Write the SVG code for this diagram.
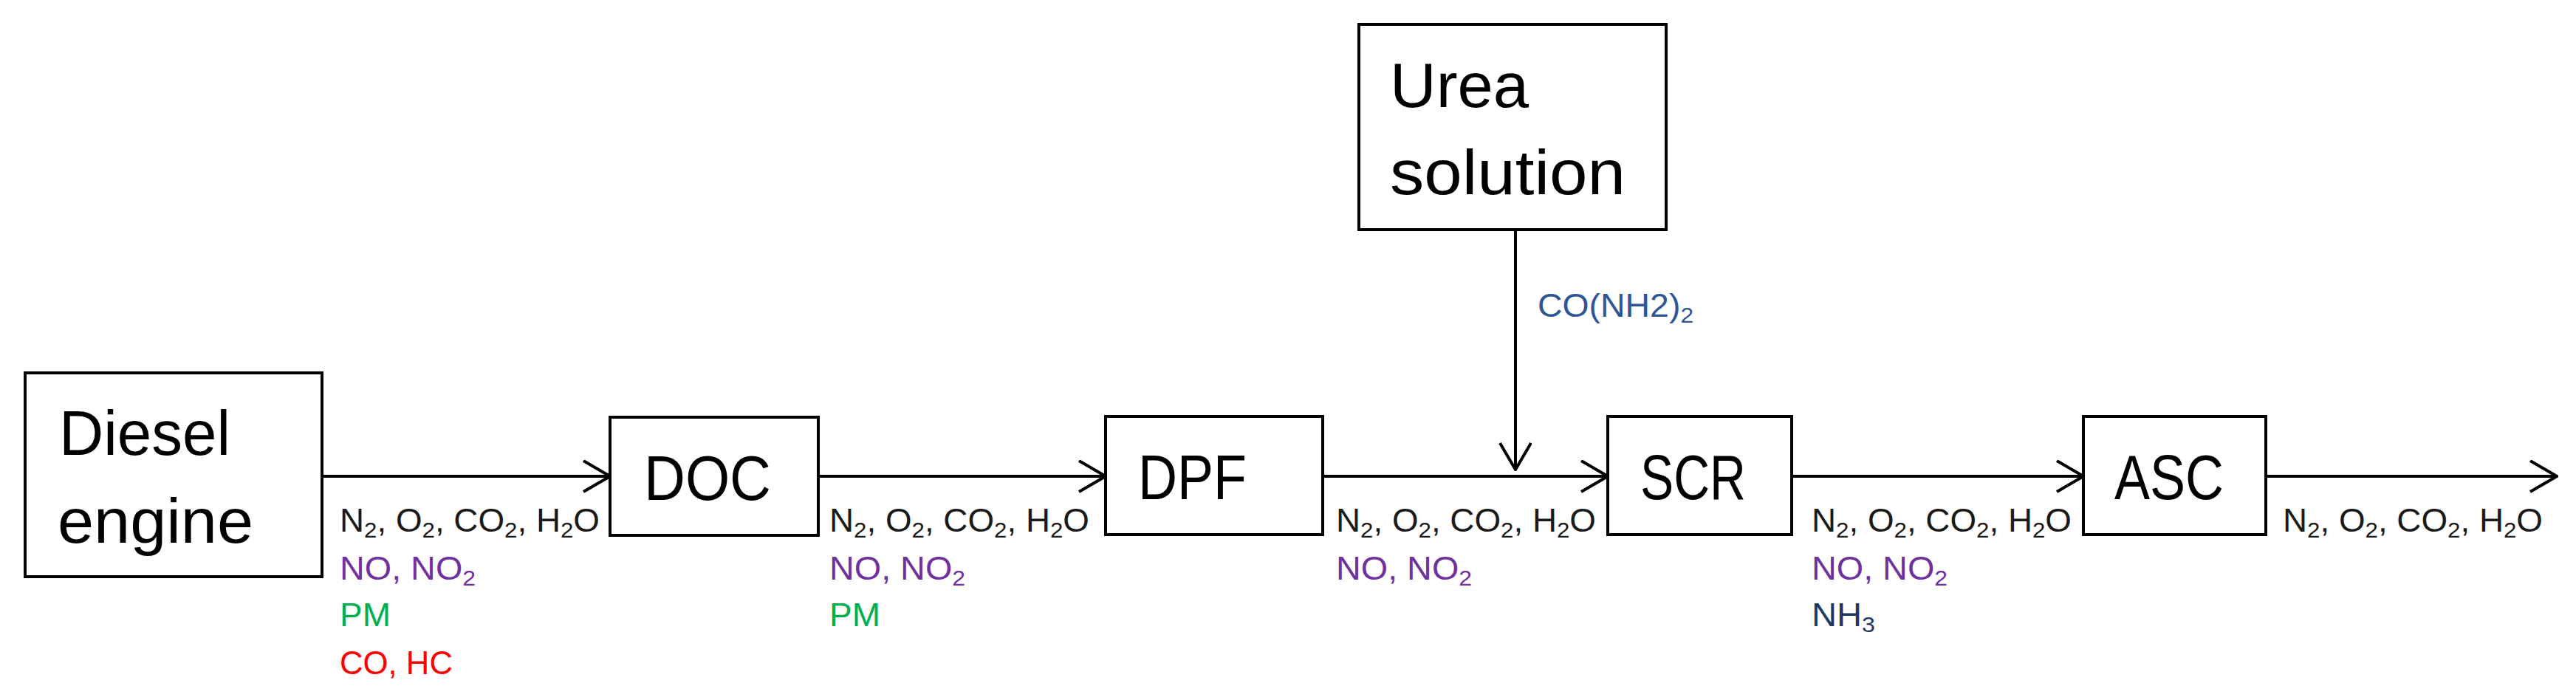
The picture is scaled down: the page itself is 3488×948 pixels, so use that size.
<svg xmlns="http://www.w3.org/2000/svg" width="3488" height="948" viewBox="0 0 3488 948">
<style>
.box{fill:#fff;stroke:#000;stroke-width:4}
.big{font-family:"Liberation Sans",Arial,sans-serif;font-size:86px;fill:#000}
.lbl{font-family:"Liberation Sans",Arial,sans-serif;font-size:44px}
.k{fill:#1a1a1a}.p{fill:#7030a0}.g{fill:#00b050}.r{fill:#ff0000}.b{fill:#203864}.u{fill:#2f5597}
.ln{stroke:#000;stroke-width:4;fill:none}
.s{font-size:30px}
</style>
<defs>
<marker id="ah" markerWidth="40" markerHeight="50" refX="38" refY="22" orient="auto" markerUnits="userSpaceOnUse">
<path d="M2,1 L38,22 L2,43" fill="none" stroke="#000" stroke-width="4"/>
</marker>
</defs>
<g id="connectors">
<line class="ln" x1="436" y1="645" x2="826" y2="645" marker-end="url(#ah)"/>
<line class="ln" x1="1108" y1="645" x2="1497" y2="645" marker-end="url(#ah)"/>
<line class="ln" x1="1791" y1="645" x2="2177" y2="645" marker-end="url(#ah)"/>
<line class="ln" x1="2426" y1="645" x2="2821" y2="645" marker-end="url(#ah)"/>
<line class="ln" x1="3068" y1="645" x2="3462" y2="645" marker-end="url(#ah)"/>
<line class="ln" x1="2052" y1="311" x2="2052" y2="636" marker-end="url(#ah)"/>
<text class="lbl u" x="2082" y="429" textLength="211" lengthAdjust="spacingAndGlyphs">CO(NH2)<tspan class="s" dy="8">2</tspan></text>
<g id="lab1">
<text class="lbl k" x="460" y="720" textLength="352" lengthAdjust="spacingAndGlyphs">N<tspan class="s" dy="8">2</tspan><tspan dy="-8">, O</tspan><tspan class="s" dy="8">2</tspan><tspan dy="-8">, CO</tspan><tspan class="s" dy="8">2</tspan><tspan dy="-8">, H</tspan><tspan class="s" dy="8">2</tspan><tspan dy="-8">O</tspan></text>
<text class="lbl p" x="460" y="785" textLength="184" lengthAdjust="spacingAndGlyphs">NO, NO<tspan class="s" dy="8">2</tspan></text>
<text class="lbl g" x="460" y="848" textLength="69" lengthAdjust="spacingAndGlyphs">PM</text>
<text class="lbl r" x="460" y="913" textLength="153" lengthAdjust="spacingAndGlyphs">CO, HC</text>
</g>
<g id="lab2">
<text class="lbl k" x="1123" y="720" textLength="352" lengthAdjust="spacingAndGlyphs">N<tspan class="s" dy="8">2</tspan><tspan dy="-8">, O</tspan><tspan class="s" dy="8">2</tspan><tspan dy="-8">, CO</tspan><tspan class="s" dy="8">2</tspan><tspan dy="-8">, H</tspan><tspan class="s" dy="8">2</tspan><tspan dy="-8">O</tspan></text>
<text class="lbl p" x="1123" y="785" textLength="184" lengthAdjust="spacingAndGlyphs">NO, NO<tspan class="s" dy="8">2</tspan></text>
<text class="lbl g" x="1123" y="848" textLength="69" lengthAdjust="spacingAndGlyphs">PM</text>
</g>
<g id="lab3">
<text class="lbl k" x="1809" y="720" textLength="352" lengthAdjust="spacingAndGlyphs">N<tspan class="s" dy="8">2</tspan><tspan dy="-8">, O</tspan><tspan class="s" dy="8">2</tspan><tspan dy="-8">, CO</tspan><tspan class="s" dy="8">2</tspan><tspan dy="-8">, H</tspan><tspan class="s" dy="8">2</tspan><tspan dy="-8">O</tspan></text>
<text class="lbl p" x="1809" y="785" textLength="184" lengthAdjust="spacingAndGlyphs">NO, NO<tspan class="s" dy="8">2</tspan></text>
</g>
<g id="lab4">
<text class="lbl k" x="2453" y="720" textLength="352" lengthAdjust="spacingAndGlyphs">N<tspan class="s" dy="8">2</tspan><tspan dy="-8">, O</tspan><tspan class="s" dy="8">2</tspan><tspan dy="-8">, CO</tspan><tspan class="s" dy="8">2</tspan><tspan dy="-8">, H</tspan><tspan class="s" dy="8">2</tspan><tspan dy="-8">O</tspan></text>
<text class="lbl p" x="2453" y="785" textLength="184" lengthAdjust="spacingAndGlyphs">NO, NO<tspan class="s" dy="8">2</tspan></text>
<text class="lbl b" x="2453" y="848" textLength="86" lengthAdjust="spacingAndGlyphs">NH<tspan class="s" dy="8">3</tspan></text>
</g>
<g id="lab5">
<text class="lbl k" x="3091" y="720" textLength="352" lengthAdjust="spacingAndGlyphs">N<tspan class="s" dy="8">2</tspan><tspan dy="-8">, O</tspan><tspan class="s" dy="8">2</tspan><tspan dy="-8">, CO</tspan><tspan class="s" dy="8">2</tspan><tspan dy="-8">, H</tspan><tspan class="s" dy="8">2</tspan><tspan dy="-8">O</tspan></text>
</g>
</g>
<g id="diesel">
<rect class="box" x="34" y="505" width="402" height="276"/>
<text class="big" x="80" y="616" textLength="232" lengthAdjust="spacingAndGlyphs">Diesel</text>
<text class="big" x="78" y="735" textLength="265" lengthAdjust="spacingAndGlyphs">engine</text>
</g>
<g id="doc">
<rect class="box" x="826" y="565" width="282" height="160"/>
<text class="big" x="872" y="677" textLength="172" lengthAdjust="spacingAndGlyphs">DOC</text>
</g>
<g id="dpf">
<rect class="box" x="1497" y="564" width="294" height="160"/>
<text class="big" x="1541" y="676" textLength="147" lengthAdjust="spacingAndGlyphs">DPF</text>
</g>
<g id="urea">
<rect class="box" x="1840" y="33" width="416" height="278"/>
<text class="big" x="1882" y="145" textLength="188" lengthAdjust="spacingAndGlyphs">Urea</text>
<text class="big" x="1882" y="263" textLength="319" lengthAdjust="spacingAndGlyphs">solution</text>
</g>
<g id="scr">
<rect class="box" x="2177" y="564" width="249" height="160"/>
<text class="big" x="2221" y="676" textLength="143" lengthAdjust="spacingAndGlyphs">SCR</text>
</g>
<g id="asc">
<rect class="box" x="2821" y="564" width="247" height="160"/>
<text class="big" x="2863" y="676" textLength="148" lengthAdjust="spacingAndGlyphs">ASC</text>
</g>
</svg>
